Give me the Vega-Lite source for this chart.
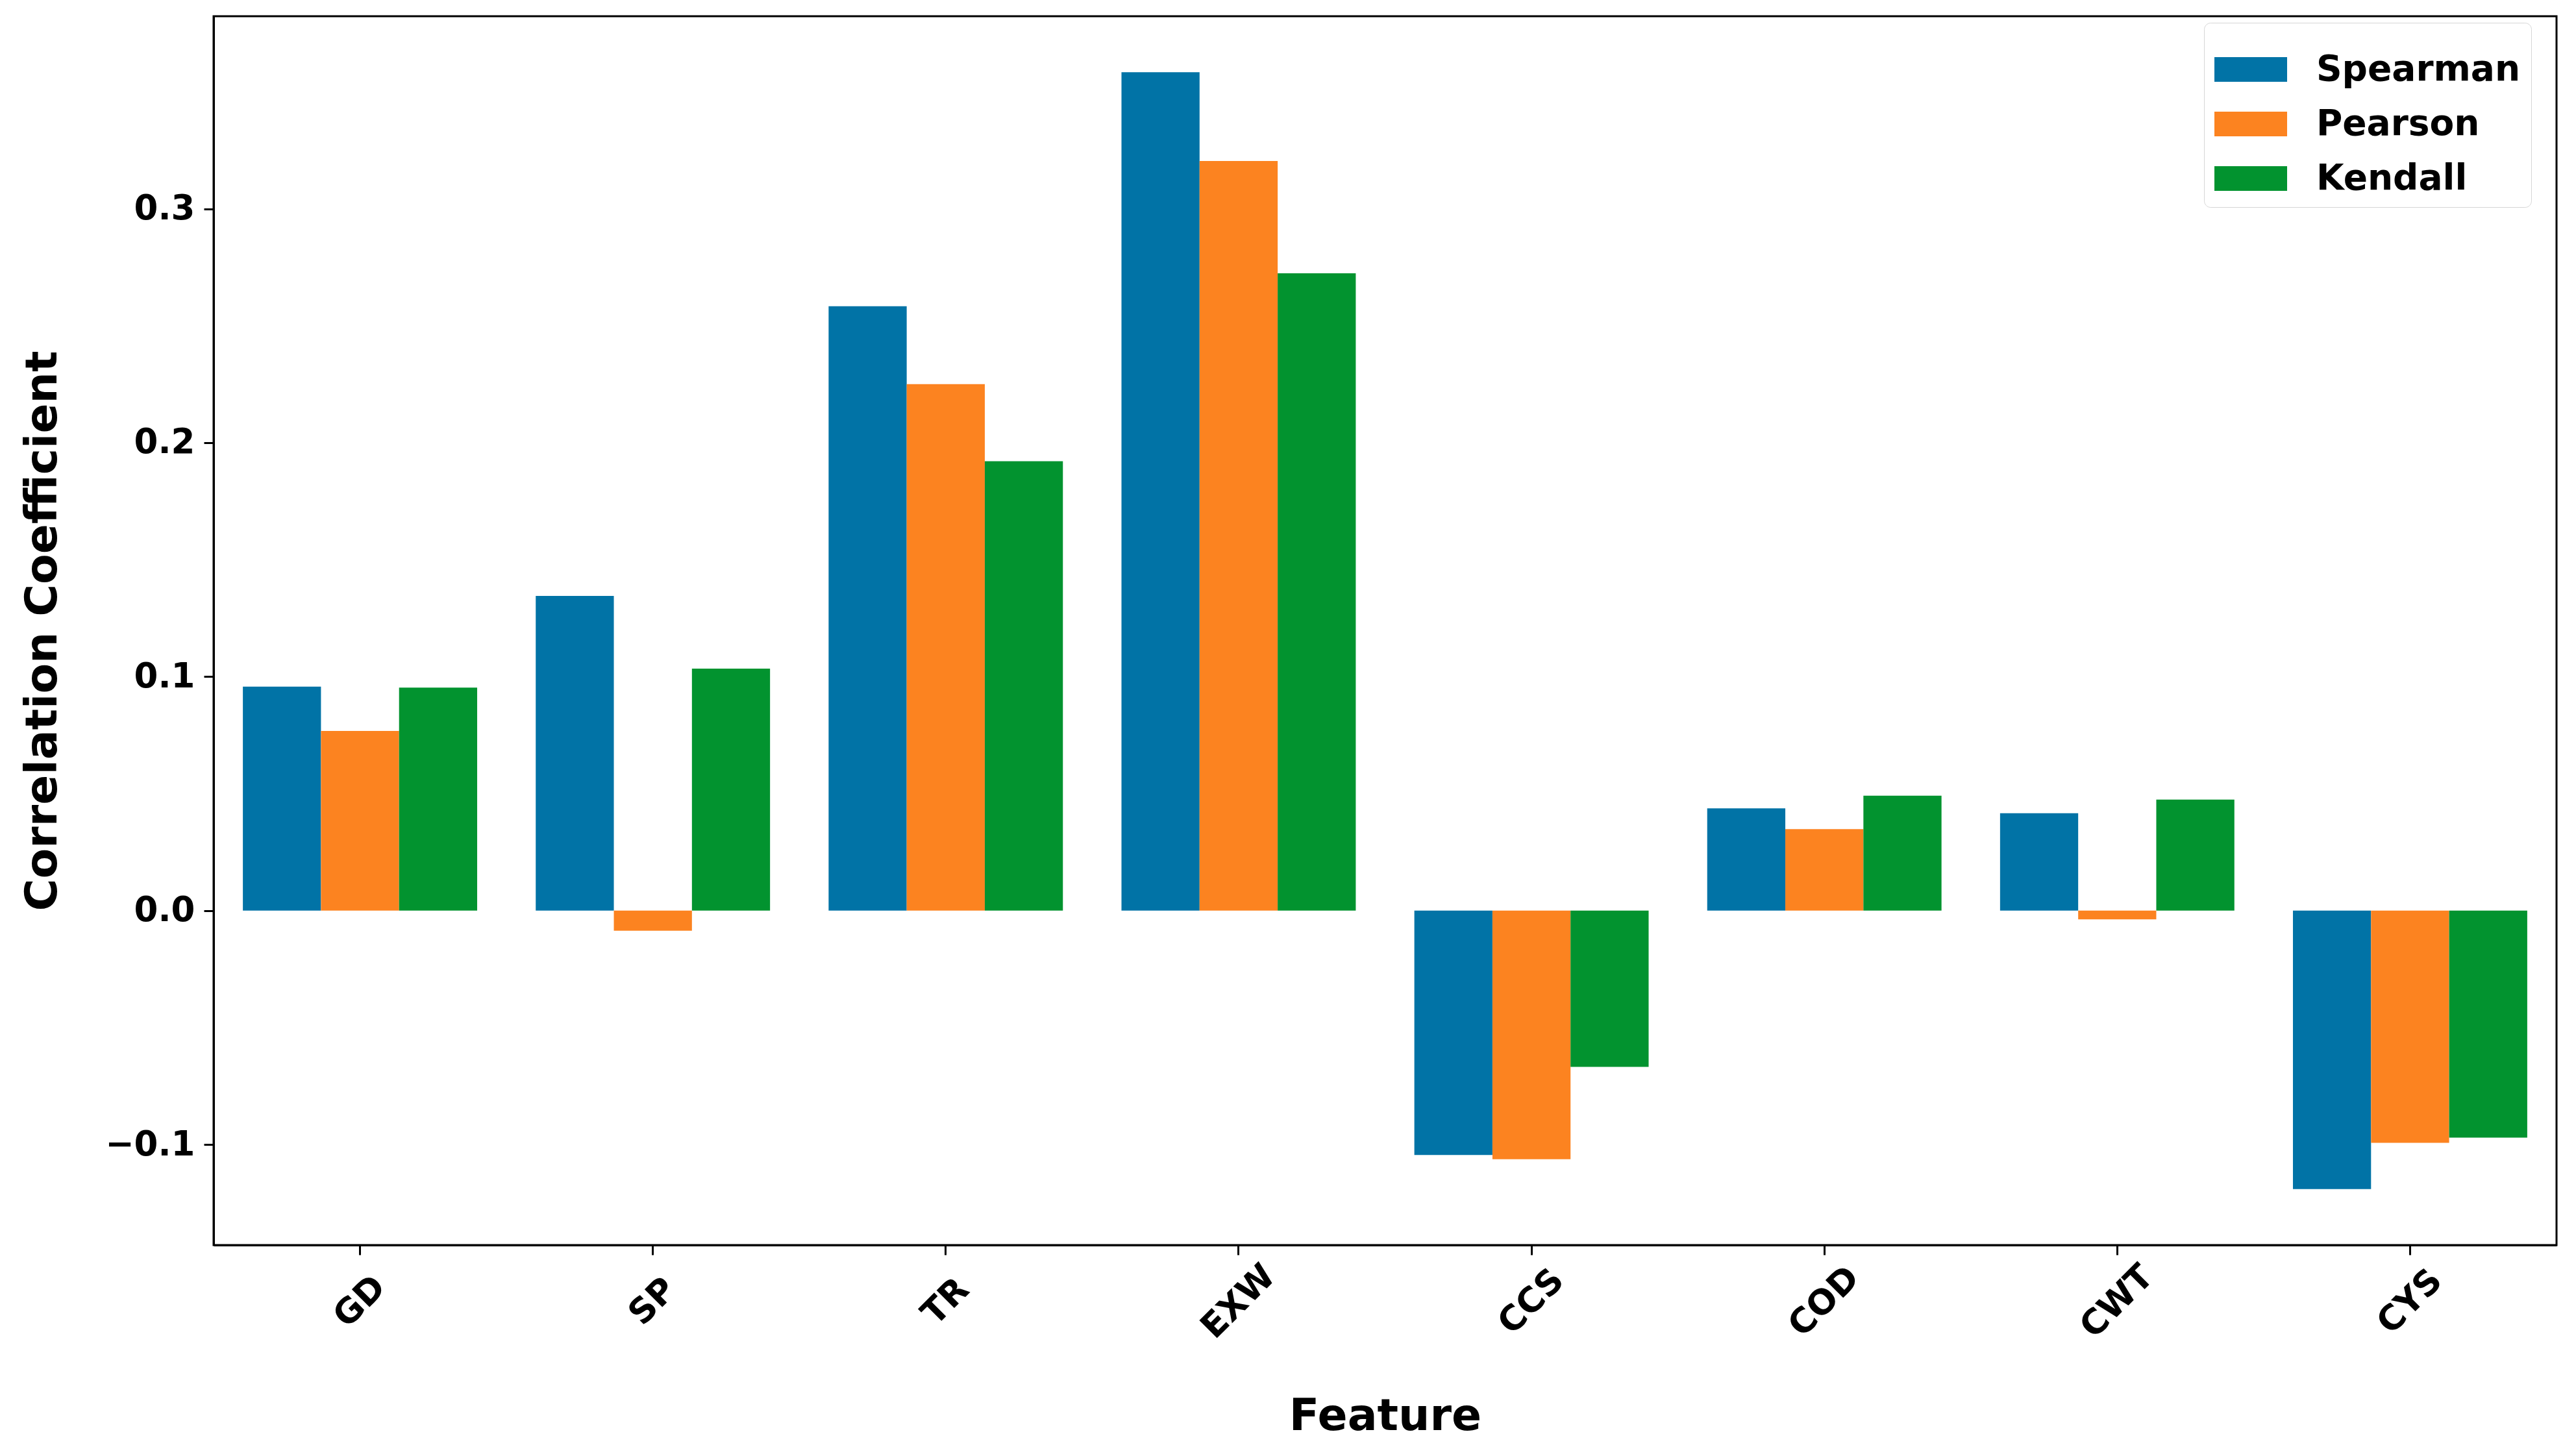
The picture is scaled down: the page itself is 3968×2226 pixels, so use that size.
{
  "$schema": "https://vega.github.io/schema/vega-lite/v6.json",
  "autosize": "none",
  "width": 3609,
  "height": 1893,
  "padding": {"left": 329, "top": 25, "right": 30, "bottom": 308},
  "background": "white",
  "config": {
    "font": "DejaVu Sans",
    "view": {"stroke": "black", "strokeWidth": 3},
    "axis": {
      "grid": false,
      "domainColor": "black",
      "domainWidth": 3,
      "tickColor": "black",
      "tickWidth": 3,
      "tickSize": 15,
      "labelColor": "black",
      "labelFont": "DejaVu Sans",
      "labelFontWeight": "bold",
      "labelFontSize": 53,
      "titleColor": "black",
      "titleFont": "DejaVu Sans",
      "titleFontWeight": "bold",
      "titleFontSize": 68
    },
    "legend": {
      "strokeColor": "#d6d6d6",
      "cornerRadius": 10,
      "fillColor": "white",
      "padding": 16
    }
  },
  "data": {
    "values": [
      {"feature": "GD", "method": "Spearman", "value": 0.0957},
      {"feature": "GD", "method": "Pearson", "value": 0.0768},
      {"feature": "GD", "method": "Kendall", "value": 0.0953},
      {"feature": "SP", "method": "Spearman", "value": 0.1345},
      {"feature": "SP", "method": "Pearson", "value": -0.0086},
      {"feature": "SP", "method": "Kendall", "value": 0.1034},
      {"feature": "TR", "method": "Spearman", "value": 0.2583},
      {"feature": "TR", "method": "Pearson", "value": 0.2250},
      {"feature": "TR", "method": "Kendall", "value": 0.1921},
      {"feature": "EXW", "method": "Spearman", "value": 0.3584},
      {"feature": "EXW", "method": "Pearson", "value": 0.3204},
      {"feature": "EXW", "method": "Kendall", "value": 0.2724},
      {"feature": "CCS", "method": "Spearman", "value": -0.1045},
      {"feature": "CCS", "method": "Pearson", "value": -0.1063},
      {"feature": "CCS", "method": "Kendall", "value": -0.0668},
      {"feature": "COD", "method": "Spearman", "value": 0.0437},
      {"feature": "COD", "method": "Pearson", "value": 0.0348},
      {"feature": "COD", "method": "Kendall", "value": 0.0491},
      {"feature": "CWT", "method": "Spearman", "value": 0.0416},
      {"feature": "CWT", "method": "Pearson", "value": -0.0038},
      {"feature": "CWT", "method": "Kendall", "value": 0.0474},
      {"feature": "CYS", "method": "Spearman", "value": -0.1191},
      {"feature": "CYS", "method": "Pearson", "value": -0.0993},
      {"feature": "CYS", "method": "Kendall", "value": -0.0971}
    ]
  },
  "mark": {"type": "bar", "strokeWidth": 0},
  "encoding": {
    "x": {
      "field": "feature",
      "type": "nominal",
      "sort": ["GD", "SP", "TR", "EXW", "CCS", "COD", "CWT", "CYS"],
      "scale": {"paddingInner": 0.2, "paddingOuter": 0.1},
      "axis": {
        "title": "Feature",
        "labelAngle": -45,
        "labelAlign": "center",
        "labelBaseline": "middle",
        "labelPadding": 72,
        "bandPosition": 0.5,
        "titleY": 284,
        "titleBaseline": "alphabetic"
      }
    },
    "xOffset": {
      "field": "method",
      "type": "nominal",
      "sort": ["Spearman", "Pearson", "Kendall"],
      "scale": {"paddingInner": 0, "paddingOuter": 0}
    },
    "y": {
      "field": "value",
      "type": "quantitative",
      "scale": {"domain": [-0.143, 0.3823], "nice": false, "zero": false},
      "axis": {
        "title": "Correlation Coefficient",
        "values": [-0.1, 0, 0.1, 0.2, 0.3],
        "format": ".1f",
        "labelPadding": 14,
        "titleX": -243,
        "titleBaseline": "alphabetic"
      }
    },
    "color": {
      "field": "method",
      "type": "nominal",
      "scale": {
        "domain": ["Spearman", "Pearson", "Kendall"],
        "range": ["#0173a6", "#fc8320", "#02932f"]
      },
      "legend": {
        "title": null,
        "orient": "none",
        "legendX": 3066,
        "legendY": 10,
        "symbolType": "M-1,-0.34L1,-0.34L1,0.34L-1,0.34Z",
        "symbolSize": 12544,
        "symbolStrokeWidth": 0,
        "symbolOpacity": 1,
        "labelFont": "DejaVu Sans",
        "labelFontWeight": "bold",
        "labelFontSize": 55,
        "labelColor": "black",
        "labelOffset": 45,
        "labelLimit": 0,
        "rowPadding": -5
      }
    }
  }
}
